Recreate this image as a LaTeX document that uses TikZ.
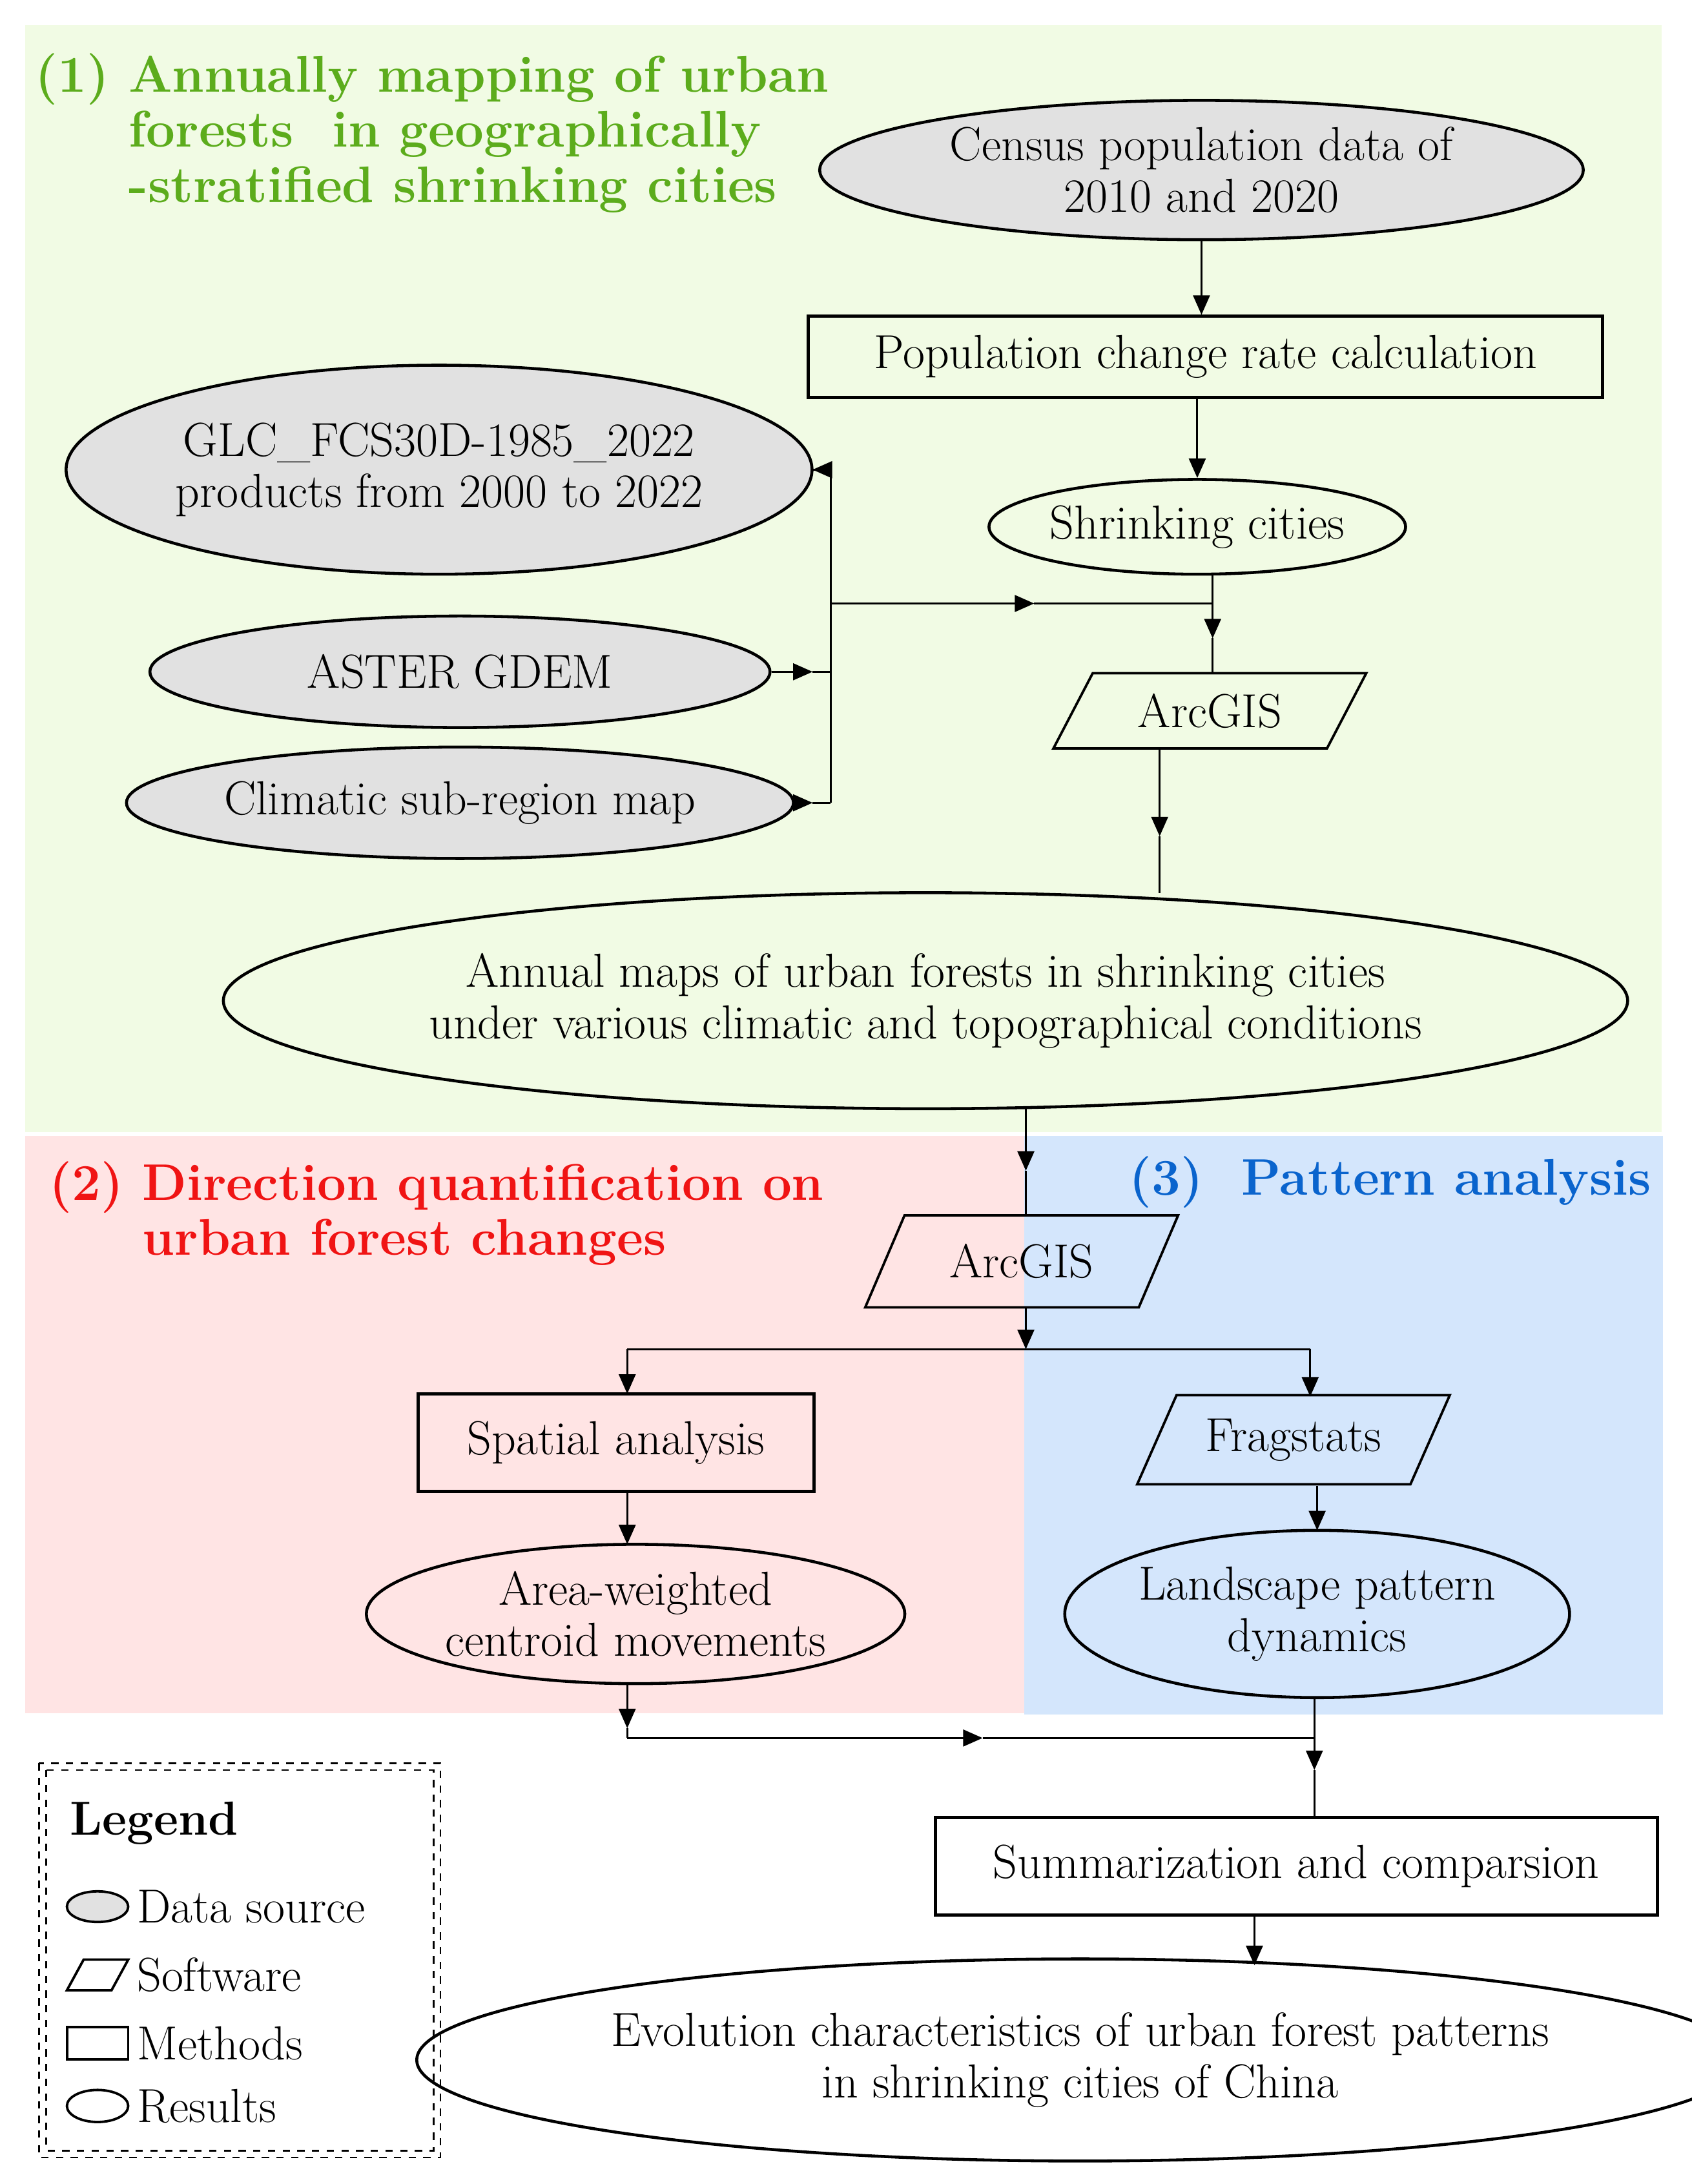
\documentclass[tikz,border=0pt]{standalone}
\usetikzlibrary{shapes.geometric,arrows.meta}
\definecolor{bgG}{RGB}{241,251,228}
\definecolor{bgR}{RGB}{255,228,228}
\definecolor{bgB}{RGB}{212,230,252}
\definecolor{tG}{RGB}{92,172,28}
\definecolor{tR}{RGB}{240,20,20}
\definecolor{tB}{RGB}{10,100,205}
\definecolor{dsG}{RGB}{225,225,225}
\begin{document}
\begin{tikzpicture}[x=0.02cm,y=-0.02cm,
  every node/.style={font=\fontsize{19.5}{21}\selectfont, inner sep=0pt, align=center},
  ell/.style={ellipse, draw, line width=1.2pt},
  ds/.style={ell, fill=dsG},
  res/.style={ell},
  meth/.style={rectangle, draw, line width=1.3pt},
  soft/.style={trapezium, trapezium left angle=55, trapezium right angle=125, trapezium stretches=true, draw, line width=1pt},
  ttl/.style={font=\fontsize{21}{22.5}\selectfont\bfseries, align=left},
  ar/.style={line width=0.8pt, -{Triangle[length=0.28cm,width=0.24cm]}},
  ln/.style={line width=0.8pt}]
\useasboundingbox (0,0) rectangle (1213.5,1567);
\fill[bgG] (18,18) rectangle (1192,812);
\fill[bgR] (18,815) rectangle (735,1229);
\fill[bgB] (735,815) rectangle (1193,1230);

\node[ttl, text=tG, anchor=north west] (t1) at (25,38) {(1) Annually mapping of urban\\\phantom{(1) }forests\ \ in geographically\\\phantom{(1) }-stratified shrinking cities};
\node[ttl, text=tR, anchor=north west] (t2) at (35,833) {(2) Direction quantification on\\\phantom{(2) }urban forest changes};
\node[ttl, text=tB, anchor=east] (t3) at (1185,848) {(3)\ \ Pattern analysis};

\node[ds, minimum width=10.96cm, minimum height=2.0cm] (census) at (862,122) {Census population data of\\2010 and 2020};
\node[meth, minimum width=11.4cm, minimum height=1.16cm] (pop) at (865,256) {Population change rate calculation};
\node[res, minimum width=5.92cm, minimum height=1.36cm] (shr) at (859,378) {Shrinking cities};
\node[ds, minimum width=9.5cm, minimum height=3.0cm] (glc) at (315,337) {GLC\_FCS30D-1985\_2022\\products from 2000 to 2022};
\node[ds, minimum width=8.9cm, minimum height=1.6cm] (aster) at (330,482) {ASTER GDEM};
\node[ds, minimum width=8.9cm, minimum height=1.6cm] (clim) at (330,576) {Climatic sub-region map};
\node[soft, minimum width=4.5cm, minimum height=1.08cm] (arc1) at (868,510) {ArcGIS};
\node[res, minimum width=19.6cm, minimum height=3.1cm] (annual) at (664,718) {Annual maps of urban forests in shrinking cities\\under various climatic and topographical conditions};
\node[soft, minimum width=4.5cm, minimum height=1.32cm] (arc2) at (733,905) {ArcGIS};
\node[meth, minimum width=5.68cm, minimum height=1.4cm] (spat) at (442,1035) {Spatial analysis};
\node[soft, minimum width=4.5cm, minimum height=1.28cm] (frag) at (928,1033) {Fragstats};
\node[res, minimum width=7.64cm, minimum height=2.0cm] (area) at (456,1158) {Area-weighted\\centroid movements};
\node[res, minimum width=6.9cm, minimum height=2.4cm] (land) at (945,1158) {Landscape pattern\\dynamics};
\node[meth, minimum width=10.36cm, minimum height=1.4cm] (summ) at (930,1339) {Summarization and comparsion};
\node[res, minimum width=16.1cm, minimum height=2.9cm] (evo) at (775,1478) {Evolution characteristics of urban forest patterns\\in shrinking cities of China};

% connectors
\draw[ar] (census.south) -- (census.south |- pop.north);
\draw[ar] (pop.south -| shr.north) -- (shr.north);
\coordinate (b1) at (596,337); \coordinate (b2) at (596,482); \coordinate (b3) at (596,576);
\coordinate (h1) at (596,433); \coordinate (hm) at (742,433); \coordinate (h2) at (870,433);
\coordinate (s1) at (870,412); \coordinate (sa) at (870,458);
\draw[ar] (glc.east) -- (583,337); \draw[ln] (583,337) -- (b1);
\draw[ar] (aster.east) -- (583,482); \draw[ln] (583,482) -- (b2);
\draw[ar] (clim.east) -- (583,576); \draw[ln] (583,576) -- (b3);
\draw[ln] (b1) -- (b3);
\draw[ar] (h1) -- (hm); \draw[ln] (hm) -- (h2);
\draw[ar] (s1) -- (sa); \draw[ln] (sa) -- (870,483);
\coordinate (a1) at (832,537); \coordinate (am) at (832,600); \coordinate (a2) at (832,641);
\draw[ar] (a1) -- (am); \draw[ln] (am) -- (a2);
\coordinate (n1) at (736,795); \coordinate (nm) at (736,840); \coordinate (n2) at (736,872);
\draw[ar] (n1) -- (nm); \draw[ln] (nm) -- (n2);
\coordinate (r1) at (736,938); \coordinate (r2) at (736,968);
\coordinate (l1) at (450,968); \coordinate (l2) at (940,968);
\draw[ar] (r1) -- (r2);
\draw[ln] (l1) -- (l2);
\draw[ar] (l1) -- (450,1000);
\draw[ar] (l2) -- (940,1002);
\draw[ar] (450,1070) -- (450,1108);
\draw[ar] (945,1066) -- (945,1098);
\coordinate (q1) at (450,1208); \coordinate (q2) at (450,1247); \coordinate (qm) at (705,1247); \coordinate (q3) at (943,1247);
\draw[ar] (q1) -- (450,1240); \draw[ln] (450,1240) -- (q2);
\draw[ar] (q2) -- (qm); \draw[ln] (qm) -- (q3);
\draw[ar] (943,1218) -- (943,1270); \draw[ln] (943,1270) -- (943,1304);
\draw[ar] (900,1374) -- (900,1410);

% legend
\draw[dashed, line width=0.7pt] (28,1265) rectangle (316,1548);
\draw[dashed, line width=0.7pt] (33,1270) rectangle (311,1543);
\node[anchor=west, font=\fontsize{19.5}{21}\selectfont\bfseries] (lg) at (50,1308) {Legend};
\node[ds, line width=1pt, minimum width=0.88cm, minimum height=0.44cm] (i1) at (70,1368) {};
\coordinate (i2) at (70,1417);
\draw[line width=1pt] (48,1428) -- (60,1406) -- (92,1406) -- (80,1428) -- cycle;
\node[meth, line width=1pt, minimum width=0.88cm, minimum height=0.46cm] (i3) at (70,1466) {};
\node[res, line width=1pt, minimum width=0.88cm, minimum height=0.46cm] (i4) at (70,1511) {};
\node[anchor=west] (g1) at (98,1368) {Data source};
\node[anchor=west] (g2) at (98,1417) {Software};
\node[anchor=west] (g3) at (98,1466) {Methods};
\node[anchor=west] (g4) at (98,1511) {Results};
\end{tikzpicture}
\end{document}
